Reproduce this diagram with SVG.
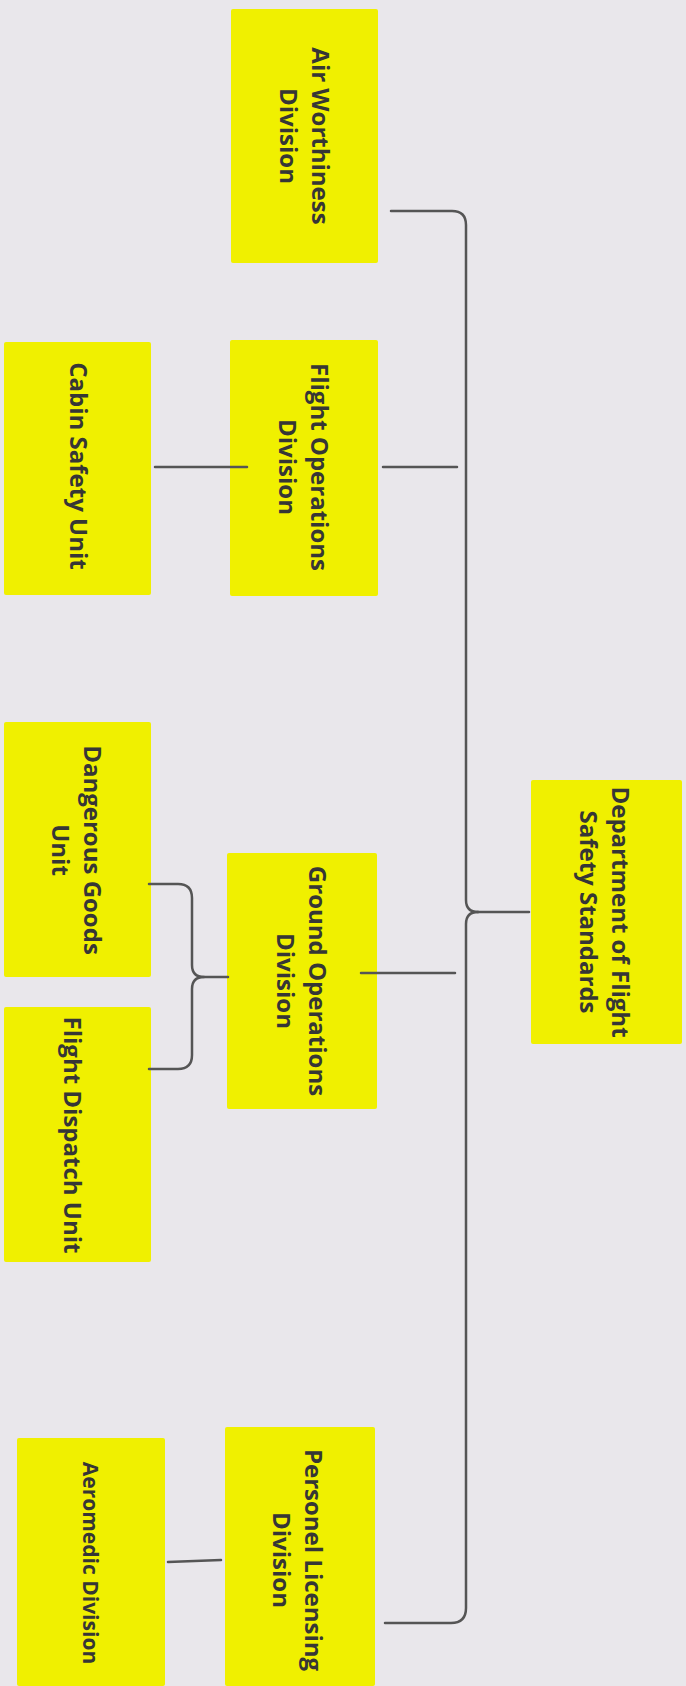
<svg xmlns="http://www.w3.org/2000/svg" width="686" height="1686" viewBox="0 0 686 1686">
  <style>
    .box { fill: #f0f000; }
    .t { font-family: "Open Sans", "Liberation Sans", sans-serif; font-weight: 700; font-size: 24px; fill: #363636; text-anchor: middle; }
    .ts { font-size: 21px; }
    .c { fill: none; stroke: #555; stroke-width: 2.5; stroke-linecap: round; stroke-linejoin: round; }
  </style>
  <rect x="0" y="0" width="686" height="1686" fill="#e9e7eb"/>

  <g id="n-air">
    <rect class="box" x="231" y="9" width="147" height="254" rx="2"/>
    <g transform="translate(304,136) rotate(90)">
      <text class="t" x="0" y="-8">Air Worthiness</text>
      <text class="t" x="0" y="24">Division</text>
    </g>
  </g>

  <g id="n-flightops">
    <rect class="box" x="230" y="340" width="148" height="256" rx="2"/>
    <g transform="translate(303,467) rotate(90)">
      <text class="t" x="0" y="-8">Flight Operations</text>
      <text class="t" x="0" y="24">Division</text>
    </g>
  </g>

  <g id="n-cabin">
    <rect class="box" x="4" y="342" width="147" height="253" rx="2"/>
    <g transform="translate(78,466) rotate(90)">
      <text class="t" x="0" y="8">Cabin Safety Unit</text>
    </g>
  </g>

  <g id="n-dept">
    <rect class="box" x="531" y="780" width="151" height="264" rx="2"/>
    <g transform="translate(604,912) rotate(90)">
      <text class="t" x="0" y="-8">Department of Flight</text>
      <text class="t" x="0" y="24">Safety Standards</text>
    </g>
  </g>

  <g id="n-ground">
    <rect class="box" x="227" y="853" width="150" height="256" rx="2"/>
    <g transform="translate(301,981) rotate(90)">
      <text class="t" x="0" y="-8">Ground Operations</text>
      <text class="t" x="0" y="24">Division</text>
    </g>
  </g>

  <g id="n-dg">
    <rect class="box" x="4" y="722" width="147" height="255" rx="2"/>
    <g transform="translate(76,850) rotate(90)">
      <text class="t" x="0" y="-8">Dangerous Goods</text>
      <text class="t" x="0" y="24">Unit</text>
    </g>
  </g>

  <g id="n-fd">
    <rect class="box" x="4" y="1007" width="147" height="255" rx="2"/>
    <g transform="translate(72,1135) rotate(90)">
      <text class="t" x="0" y="8">Flight Dispatch Unit</text>
    </g>
  </g>

  <g id="n-personel">
    <rect class="box" x="225" y="1427" width="150" height="259" rx="2"/>
    <g transform="translate(297,1560) rotate(90)">
      <text class="t" x="0" y="-8">Personel Licensing</text>
      <text class="t" x="0" y="24">Division</text>
    </g>
  </g>

  <g id="n-aeromedic">
    <rect class="box" x="17" y="1438" width="148" height="248" rx="2"/>
    <g transform="translate(91,1563) rotate(90)">
      <text class="t ts" x="0" y="8">Aeromedic Division</text>
    </g>
  </g>

  <g id="connectors">
    <path class="c" d="M391,211 H452 Q466,211 466,225 V900 Q466,912 478,912"/>
    <path class="c" d="M478,912 Q466,912 466,924 V1608 Q466,1623 451,1623 H385"/>
    <path class="c" d="M529,912 H478"/>
    <path class="c" d="M383,467 H457"/>
    <path class="c" d="M361,973 H455"/>
    <path class="c" d="M155,467 H247"/>
    <path class="c" d="M149,884 H178 Q192,884 192,898 V965 Q192,977 204,977 H228"/>
    <path class="c" d="M204,977 Q192,977 192,989 V1055 Q192,1069 178,1069 H149"/>
    <path class="c" d="M168,1562 L221,1560"/>
  </g>
</svg>
